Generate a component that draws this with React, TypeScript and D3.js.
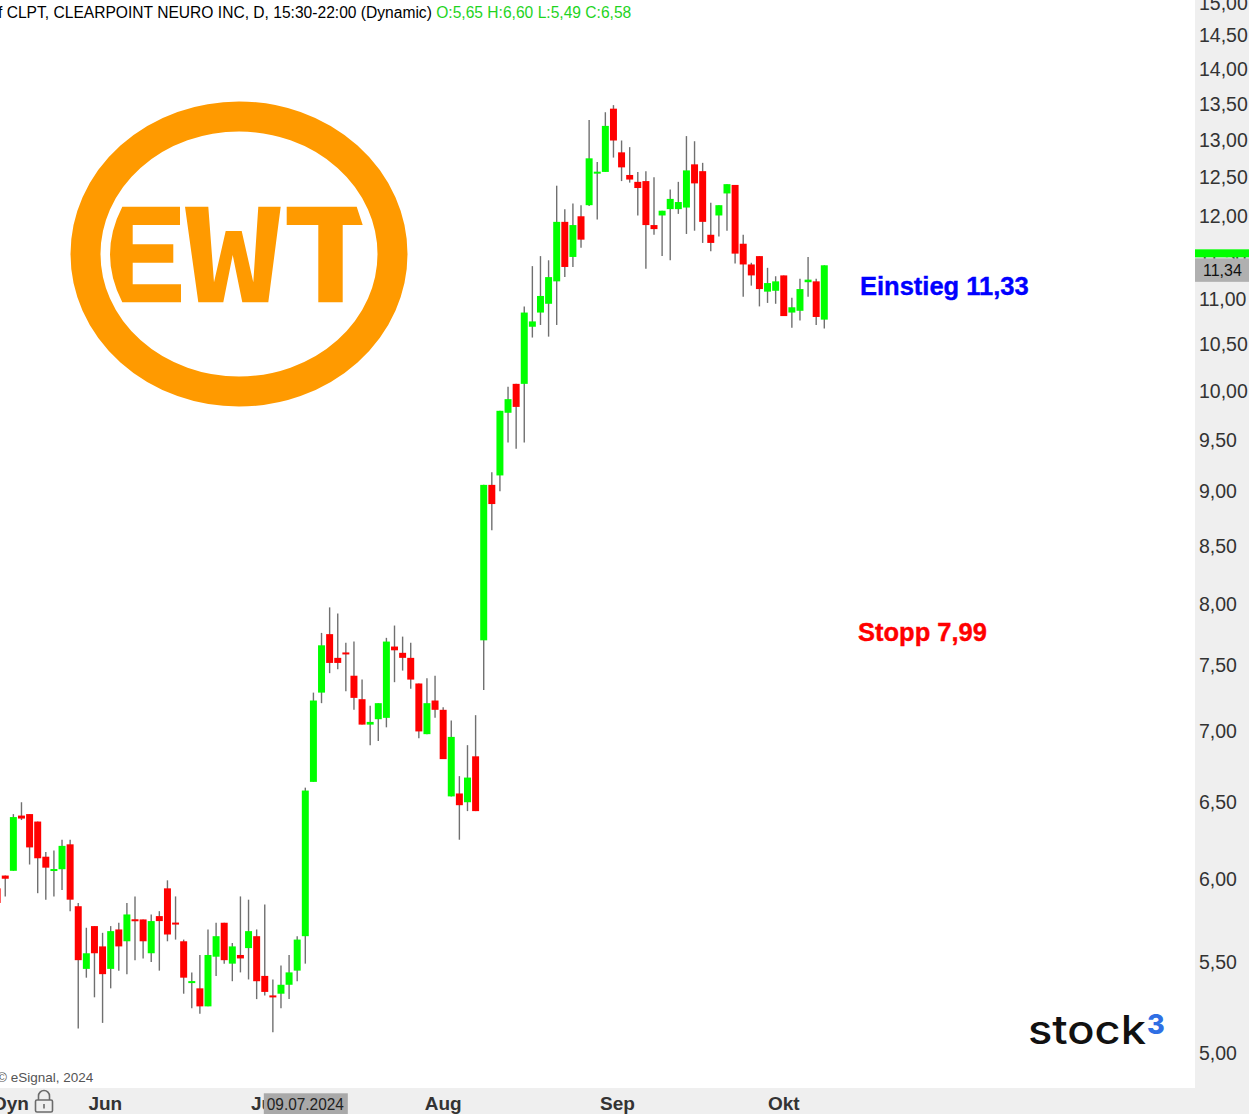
import React from "react";
import * as d3 from "d3";

const W = 1249;
const H = 1114;

// ---- categories (trading days) ----
const startDate = "2024-05-13";
const holidays = ["2024-05-27", "2024-06-19", "2024-07-04", "2024-09-02"];
const barCount = 103;

// ---- OHLC series ----
const opens = [5.94,6.02,6.05,6.41,6.42,6.37,6.14,6.05,6.06,6.22, 5.83,5.46,5.71,5.59,5.46,5.69,5.62,5.75,5.75,5.55, 5.77,5.94,5.73,5.62,5.38,5.35,5.25,5.53,5.73,5.49, 5.54,5.58,5.65,5.42,5.31,5.32,5.37,5.45,5.65,6.64, 7.29,7.75,7.56,7.60,7.42,7.24,7.05,7.09,7.10,7.65, 7.60,7.56,7.36,6.98,7.23,7.16,6.54,6.56,6.50,6.82, 7.70,9.06,9.15,9.77,10.07,10.07,10.69,10.85,10.95,11.21, 11.93,11.50,12.00,12.14,12.55,12.57,13.43,12.83,12.53,12.44, 12.45,11.89,12.01,12.09,12.09,12.11,12.67,12.58,11.77,12.01, 12.29,12.40,11.66,11.41,11.51,11.09,11.10,11.28,10.85,10.87, 11.20,11.21,10.77];
const highs = [5.97,6.02,6.42,6.50,6.42,6.37,6.17,6.18,6.25,6.25, 5.85,5.70,5.71,5.67,5.71,5.73,5.85,5.89,5.75,5.78, 5.80,5.99,5.89,5.63,5.44,5.54,5.69,5.73,5.73,5.61, 5.89,5.87,5.69,5.84,5.40,5.48,5.54,5.65,6.60,7.29, 7.76,7.97,7.92,7.68,7.69,7.39,7.19,7.21,7.72,7.82, 7.73,7.68,7.36,7.40,7.42,7.18,7.08,6.68,6.90,7.12, 9.06,9.18,9.79,10.04,10.07,10.92,11.39,11.51,11.46,12.39, 12.09,12.16,12.14,13.27,12.70,13.38,13.48,12.99,12.90,12.57, 12.58,12.50,12.07,12.34,12.44,13.05,12.98,12.69,12.17,12.14, 12.41,12.40,11.77,11.43,11.51,11.37,11.27,11.28,11.02,11.24, 11.50,11.24,11.40];
const lows = [5.84,5.89,6.05,6.38,6.09,5.91,5.87,5.89,5.93,5.80, 5.13,5.41,5.30,5.16,5.35,5.45,5.43,5.51,5.52,5.50, 5.45,5.62,5.63,5.32,5.24,5.21,5.25,5.42,5.49,5.39, 5.44,5.40,5.29,5.31,5.11,5.24,5.29,5.39,5.49,6.64, 7.21,7.44,7.47,7.30,7.16,7.05,6.90,6.93,7.03,7.37, 7.46,7.32,6.95,6.98,7.10,6.80,6.54,6.25,6.44,6.44, 7.31,8.64,9.00,9.47,9.41,9.47,10.57,10.71,10.58,10.71, 11.26,11.38,11.61,12.13,11.96,12.57,12.76,12.45,12.43,12.01, 11.36,11.77,11.51,11.46,12.03,11.78,11.82,11.67,11.57,11.75, 11.82,11.42,11.03,11.16,10.92,10.96,10.95,10.81,10.68,10.76, 11.03,10.71,10.67];
const closes = [5.85,6.00,6.40,6.39,6.20,6.13,6.07,6.06,6.21,5.87, 5.51,5.55,5.55,5.43,5.68,5.59,5.78,5.74,5.62,5.74, 5.74,5.66,5.72,5.41,5.39,5.25,5.54,5.65,5.51,5.59, 5.52,5.68,5.39,5.33,5.30,5.37,5.44,5.63,6.58,7.23, 7.66,7.52,7.52,7.59,7.25,7.05,7.07,7.21,7.69,7.62, 7.56,7.39,7.00,7.21,7.16,6.80,6.96,6.48,6.67,6.44, 9.06,8.88,9.79,9.91,9.83,10.85,10.75,11.04,11.26,11.93, 11.38,11.89,11.71,12.75,12.57,13.19,12.99,12.63,12.47,12.36, 11.89,11.84,12.07,12.22,12.18,12.59,12.42,11.93,11.67,12.14, 12.41,11.54,11.41,11.28,11.12,11.19,11.21,10.81,10.91,11.12, 11.23,10.80,11.40];

// ---- axis ticks / labels ----
const priceTicks = [5, 5.5, 6, 6.5, 7, 7.5, 8, 8.5, 9, 9.5, 10, 10.5, 11, 11.5, 12, 12.5, 13, 13.5, 14, 14.5, 15];
const monthLabels = ["Jun", "Jul", "Aug", "Sep", "Okt"];
const monthStarts = ["2024-06-01", "2024-07-01", "2024-08-01", "2024-09-01", "2024-10-01"];
const headerText = "f CLPT, CLEARPOINT NEURO INC, D, 15:30-22:00 (Dynamic)";
const ohlcText = "O:5,65 H:6,60 L:5,49 C:6,58";
const cursorDate = "09.07.2024";
const lastPrice = 11.34;
const lastPriceLabel = "11,34";
const entryLabel = "Einstieg 11,33";
const stopLabel = "Stopp 7,99";

const DAY = 86400000;
function buildDates(): number[] {
  const out: number[] = [];
  const hol = new Set(holidays.map((h) => Date.parse(h)));
  let t = Date.parse(startDate);
  while (out.length < barCount) {
    const wd = new Date(t).getUTCDay();
    if (wd !== 0 && wd !== 6 && !hol.has(t)) out.push(t);
    t += DAY;
  }
  return out;
}
const dates = buildDates();

function dateToIndex(s: string): number {
  const t = Date.parse(s);
  for (let i = 0; i < dates.length - 1; i++) {
    if (dates[i] <= t && t < dates[i + 1]) {
      return i + (t - dates[i]) / (dates[i + 1] - dates[i]);
    }
  }
  return dates.length - 1;
}

const FONT = "'Liberation Sans', Arial, sans-serif";

export default function App() {
  const plotRight = 1195;
  const axisTop = 1088;
  const x = d3.scaleLinear().domain([0, barCount - 1]).range([-2.85, 824.3]);
  const y = d3.scaleLog().domain([5, 15]).range([1053, 3]);
  const step = x(1) - x(0);
  const bw = step * 0.86;
  const fmt = (v: number) => v.toFixed(2).replace(".", ",");

  const bars = opens.map((o, i) => ({ o, h: highs[i], l: lows[i], c: closes[i], i }));
  const lastY = y(lastPrice);

  const cursorX = x(38);

  return (
    <svg width={W} height={H} style={{ position: "absolute", left: 0, top: 0, background: "#fff" }} fontFamily={FONT}>
      <rect x={0} y={0} width={W} height={H} fill="#ffffff" />

      {/* EWT logo */}
      <g>
        <ellipse cx={239} cy={254} rx={153.5} ry={137.5} fill="none" stroke="#FF9A00" strokeWidth={30} />
        <path d="M122.3,206.7 L180,206.7 L180,225 L132.7,225 L132.7,244.3 L173.3,244.3 L173.3,262.7 L132.7,262.7 L132.7,284.3 L181,284.3 L181,302.3 L122.3,302.3 Q97.7,254.5 122.3,206.7 Z" fill="#FF9A00" />
        <path d="M185,206.7 L208.3,206.7 L214,282.3 L225.7,231 L241.7,231 L253.3,282.3 L258.3,206.7 L280.7,206.7 L268.3,302.3 L242.3,302.3 L232.7,255 L223.3,302.3 L198.3,302.3 Z" fill="#FF9A00" />
        <path d="M286.7,206.7 L356.7,206.7 L362.7,225 L342.7,225 L342.7,302.3 L318.3,302.3 L318.3,225 L286.7,225 Z" fill="#FF9A00" />
      </g>

      {/* candles */}
      <g>
        {bars.map((b) => {
          const cx = x(b.i);
          const up = b.c >= b.o;
          const top = y(Math.max(b.o, b.c));
          const bot = y(Math.min(b.o, b.c));
          const hgt = Math.max(bot - top, 2);
          return (
            <g key={b.i}>
              <line x1={cx} x2={cx} y1={y(b.h)} y2={y(b.l)} stroke="#707070" strokeWidth={1.4} />
              <rect x={cx - bw / 2} y={bot - top < 2 ? (top + bot) / 2 - 1 : top} width={bw} height={hgt} fill={up ? "#00FF00" : "#FF0000"} />
            </g>
          );
        })}
      </g>

      {/* header */}
      <text x={-2} y={17.5} fontSize={15.6} fill="#000">
        {headerText}
        <tspan fill="#1fd41f">{" " + ohlcText}</tspan>
      </text>

      {/* annotations */}
      <text x={860} y={295} fontSize={25.5} fontWeight="bold" fill="#0000FF" stroke="#0000FF" strokeWidth={0.4}>{entryLabel}</text>
      <text x={858} y={641} fontSize={25.5} fontWeight="bold" fill="#FF0000" stroke="#FF0000" strokeWidth={0.4}>{stopLabel}</text>

      {/* stock3 logo */}
      <text x={1028} y={1044} fontSize={39} fontFamily="Inter, 'Noto Sans', sans-serif" fontWeight={500} fill="#111" textLength={118} lengthAdjust="spacingAndGlyphs">stock</text>
      <text x={1147} y={1034} fontSize={27} fontFamily="Inter, 'Noto Sans', sans-serif" fontWeight={800} fill="#2f6fe4">3</text>

      {/* copyright */}
      <text x={-3} y={1082} fontSize={13.5} fill="#555">© eSignal, 2024</text>

      {/* right price axis */}
      <rect x={plotRight} y={0} width={W - plotRight} height={axisTop} fill="#efefef" />
      {priceTicks.map((t) => (
        <text key={t} x={1199} y={y(t)} dy="0.36em" fontSize={19.5} fill="#333">{fmt(t)}</text>
      ))}
      <rect x={plotRight} y={lastY - 21} width={W - plotRight} height={8} fill="#00FF00" />
      <rect x={plotRight} y={lastY - 12} width={W - plotRight} height={23.5} fill="#b0b0b0" />
      <text x={1203} y={lastY} dy="0.36em" fontSize={16} fill="#111">{lastPriceLabel}</text>

      {/* bottom time axis */}
      <rect x={0} y={axisTop} width={W} height={H - axisTop} fill="#efefef" />
      <text x={-7} y={1110} fontSize={19} fontWeight="bold" fill="#333">Dyn</text>
      <g stroke="#6b6b6b" strokeWidth={1.6} fill="none">
        <path d="M38.5,1100 L38.5,1096 A5.5,5.5 0 0 1 49.5,1096 L49.5,1100" />
        <rect x={35.5} y={1100} width={17} height={12} rx={1.5} />
        <line x1={44} x2={44} y1={1104} y2={1108.5} />
      </g>
      {monthLabels.map((m, k) => (
        <text key={m} x={x(dateToIndex(monthStarts[k]))} y={1110} textAnchor="middle" fontSize={19} fontWeight="bold" fill="#333">{m}</text>
      ))}
      <rect x={cursorX - 41.5} y={1093.3} width={84} height={H - 1093.3} fill="#a9a9a9" />
      <text x={cursorX - 38.5} y={1110} fontSize={16} fill="#222" textLength={77} lengthAdjust="spacingAndGlyphs">{cursorDate}</text>
    </svg>
  );
}
